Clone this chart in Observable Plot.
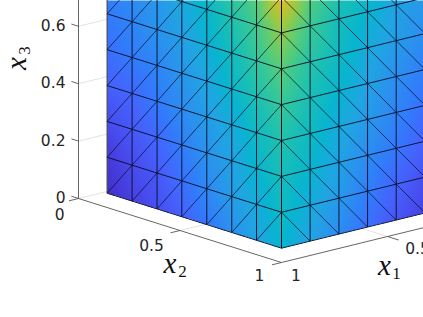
<!DOCTYPE html>
<html><head><meta charset="utf-8">
<script src="https://cdn.jsdelivr.net/npm/d3@7"></script>
<script src="https://cdn.jsdelivr.net/npm/@observablehq/plot@0.6"></script>
<style>html,body{margin:0;padding:0;background:#fff}svg{display:block;overflow:hidden}</style>
</head><body><div id="c"></div>
<script>
const x2Nodes = [0.141,0.264,0.387,0.509,0.632,0.755,0.877,1];
const x1Nodes = [1,0.865,0.729,0.594,0.459,0.323];
const x3Nodes = [0.05,0.175,0.3,0.425,0.55,0.675,0.8,0.925];
const x3Ticks = [0,0.2,0.4,0.6];
const x2Ticks = [0,0.5,1];
const x1Ticks = [0.5];
// colour index at mesh nodes, bottom row first
const leftFace = [
 [.04,.09,.13,.18,.24,.31,.37,.44],
 [.07,.12,.16,.22,.29,.35,.40,.47],
 [.12,.16,.20,.26,.32,.37,.44,.49],
 [.18,.20,.25,.30,.35,.40,.47,.52],
 [.22,.25,.28,.33,.38,.45,.51,.56],
 [.25,.28,.32,.36,.42,.48,.55,.61],
 [.28,.31,.34,.39,.45,.52,.58,.68],
 [.30,.33,.37,.41,.48,.56,.62,.78]];
const rightFace = [
 [.44,.37,.30,.22,.15,.09],
 [.47,.40,.34,.26,.19,.13],
 [.49,.44,.37,.30,.24,.18],
 [.52,.47,.40,.34,.28,.22],
 [.56,.50,.44,.37,.31,.26],
 [.61,.53,.47,.40,.35,.30],
 [.68,.57,.49,.44,.37,.34],
 [.78,.62,.53,.46,.40,.37]];
const parula = ["#3e26a8","#4537d5","#484df0","#4563fd","#327bfc","#2b91ef","#20a5e3","#08b5d0","#19bfb6","#37c897","#63cd6f","#9dc943","#d1bf27","#f8ba3d","#fccf30","#f5ef20","#f9fb15"];

// view projection: axes frame in the picture
const px = (a,b) => 281 + (1-a)*212 - (1-b)*203;
const py = (a,b,c) => 262 - (1-a)*52 - (1-b)*64 - c*287;
const pt = (a,b,c) => ({x:px(a,b), y:py(a,b,c)});
const seg = (p,q) => ({x1:p.x,y1:p.y,x2:q.x,y2:q.y});

const dz = x3Nodes[1]-x3Nodes[0];
const d2 = (1-x2Nodes[0])/7;
const d1 = (1-x1Nodes[5])/5;
function tri(g,j,k,u,v,left){
  const r0=g[k], r1=g[k+1];
  if(!r1||r0[j+1]===undefined) return NaN;
  const a=r0[j],b=r0[j+1],c=r1[j],d=r1[j+1];
  if(left) return u>v ? a+u*(b-a)+v*(d-b) : a+v*(c-a)+u*(d-c);
  return u+v<1 ? a+u*(b-a)+v*(c-a) : d+(1-u)*(c-d)+(1-v)*(b-d);
}
function field(X,Y){
  if(X<=281){
    const b = 1-(281-X)/203;
    if(b<x2Nodes[0]) return NaN;
    const c = (py(1,b,0)-Y)/287;
    const t = (b-x2Nodes[0])/d2, w=(c-x3Nodes[0])/dz;
    if(w<0) return NaN;
    const j=Math.min(Math.floor(t),6),k=Math.min(Math.floor(w),6);
    return tri(leftFace,j,k,t-j,w-k,true);
  }
  const a = 1-(X-281)/212;
  const c = (py(a,1,0)-Y)/287;
  const t=(1-a)/d1, w=(c-x3Nodes[0])/dz;
  if(w<0) return NaN;
  const j=Math.min(Math.floor(t),4),k=Math.min(Math.floor(w),6);
  return tri(rightFace,j,k,t-j,w-k,false);
}

// mesh edges
const edges=[], diagonals=[];
x3Nodes.forEach((c,k)=>{
  x2Nodes.forEach((b,i)=>{
    if(i<7) edges.push(seg(pt(1,b,c),pt(1,x2Nodes[i+1],c)));
    if(k<7) edges.push(seg(pt(1,b,c),pt(1,b,x3Nodes[k+1])));
    if(i<7&&k<7) diagonals.push(seg(pt(1,b,c),pt(1,x2Nodes[i+1],x3Nodes[k+1])));
  });
  x1Nodes.forEach((a,j)=>{
    if(j<5) edges.push(seg(pt(a,1,c),pt(x1Nodes[j+1],1,c)));
    if(k<7) edges.push(seg(pt(a,1,c),pt(a,1,x3Nodes[k+1])));
    if(j<5&&k<7) diagonals.push(seg(pt(a,1,x3Nodes[k+1]),pt(x1Nodes[j+1],1,c)));
  });
});

const axisLines=[
  seg(pt(1,0,0),pt(1,0,0.72)),
  seg(pt(1,0,0),pt(1,1,0)),
  seg(pt(1,1,0),pt(0.3,1,0)),
  ...x3Ticks.map(c=>seg(pt(1,0,c),pt(1,-0.035,c))),
  ...x2Ticks.map(b=>seg(pt(1,b,0),pt(1.045,b,0))),
  ...x1Ticks.map(a=>seg(pt(a,1,0),pt(a,1.055,0)))
];
const gridLines=[
  ...x3Ticks.map(c=>seg(pt(1,0,c),pt(0.86,0,c))),
  seg(pt(1,0.5,0),pt(0.87,0.5,0)),
  seg(pt(0.5,1,0),pt(0.5,0.87,0))
];
const off=(p,dx,dy)=>({x:p.x+dx,y:p.y+dy});
const tickLabels=[
  ...x3Ticks.map(c=>({...off(pt(1,0,c),-13,-0.5),t:String(c),a:"end"})),
  {...off(pt(1,0,0),-14,17),t:"0",a:"end"},
  {...off(pt(1,0.5,0),-28.5,16),t:"0.5",a:"middle"},
  {...off(pt(1,1,0),-22,14),t:"1",a:"middle"},
  {...off(pt(1,1,0),14.5,14),t:"1",a:"middle"},
  {...off(pt(0.5,1,0),30,13),t:"0.5",a:"middle"}
];
const mathLabels=[
  {x:169.5,y:272,t:"x",r:0},{x:384,y:274,t:"x",r:0},{x:25,y:63,t:"x",r:-90}
];
const subLabels=[
  {x:182,y:276,t:"2",r:0},{x:396,y:278,t:"1",r:0},{x:29,y:50,t:"3",r:-90}
];
const serif='Liberation Serif';
const textOpts={x:"x",y:"y",text:"t",fill:"#111"};

const chart=Plot.plot({
  width:423,height:317,margin:0,
  style:{background:"#fff",overflow:"hidden",fontFamily:"DejaVu Sans"},
  x:{domain:[0,423],range:[0,423],axis:null},
  y:{domain:[0,317],range:[0,317],axis:null},
  color:{type:"linear",domain:[0,1],interpolate:d3.piecewise(d3.interpolateRgb,parula)},
  marks:[
    Plot.link(gridLines,{x1:"x1",y1:"y1",x2:"x2",y2:"y2",stroke:"#e3e3e3",strokeWidth:1}),
    Plot.link(axisLines,{x1:"x1",y1:"y1",x2:"x2",y2:"y2",stroke:"#555",strokeWidth:0.9}),
    Plot.raster({x1:0,y1:0,x2:423,y2:317,pixelSize:1,fill:field}),
    Plot.link(diagonals,{x1:"x1",y1:"y1",x2:"x2",y2:"y2",stroke:"#050c24",strokeWidth:0.8,strokeOpacity:0.9}),
    Plot.link(edges,{x1:"x1",y1:"y1",x2:"x2",y2:"y2",stroke:"#050c24",strokeWidth:1,strokeOpacity:0.9}),
    ...["end","middle"].map(a=>Plot.text(tickLabels.filter(d=>d.a===a),{x:"x",y:"y",text:"t",textAnchor:a,fill:"#262626",fontSize:15.5,fontFamily:"DejaVu Sans"})),
    Plot.text(mathLabels.filter(d=>!d.r),{...textOpts,fontFamily:serif,fontStyle:"italic",fontSize:29,lineAnchor:"bottom",textAnchor:"middle"}),
    Plot.text(mathLabels.filter(d=>d.r),{...textOpts,rotate:-90,fontFamily:serif,fontStyle:"italic",fontSize:29,lineAnchor:"bottom",textAnchor:"middle"}),
    Plot.text(subLabels.filter(d=>!d.r),{...textOpts,fontFamily:serif,fontSize:17,lineAnchor:"bottom",textAnchor:"middle"}),
    Plot.text(subLabels.filter(d=>d.r),{...textOpts,rotate:-90,fontFamily:serif,fontSize:17,lineAnchor:"bottom",textAnchor:"middle"})
  ]
});
document.getElementById("c").appendChild(chart);
</script></body></html>
